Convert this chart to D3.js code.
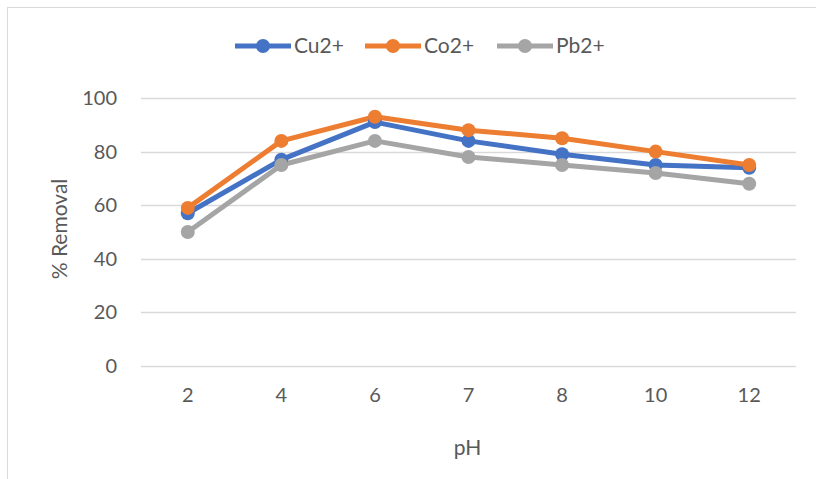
<!DOCTYPE html>
<html>
<head>
<meta charset="utf-8">
<script src="https://cdn.jsdelivr.net/npm/d3@7"></script>
<style>
  body { margin: 0; background: #fff; }
  text { font-family: Lato, "Open Sans", sans-serif; fill: #595959; }
</style>
</head>
<body>
<div id="chart-area"></div>
<script>
// data
const phLabels = ['2', '4', '6', '7', '8', '10', '12'];
const cuValues = [57, 77, 91, 84, 79, 75, 74];
const coValues = [59, 84, 93, 88, 85, 80, 75];
const pbValues = [50, 75, 84, 78, 75, 72, 68];
const seriesNames = ['Cu2+', 'Co2+', 'Pb2+'];
const yTicks = [0, 20, 40, 60, 80, 100];

const colors = ['#4472C4', '#ED7D31', '#A5A5A5'];
const series = [cuValues, coValues, pbValues].map((vals, i) => ({
  name: seriesNames[i],
  color: colors[i],
  values: vals.map((v, j) => ({ ph: phLabels[j], v: v }))
}));

const W = 816, H = 479;
const margins = { left: 141, right: 20, top: 98, bottom: 113 };

const root = d3.select('#chart-area')
  .append('svg')
  .attr('width', W)
  .attr('height', H);

// chart frame
root.append('rect')
  .attr('x', 7.5).attr('y', 7.5)
  .attr('width', W).attr('height', H)
  .attr('fill', 'none')
  .attr('stroke', '#d9d9d9');

const svg = root.append('g')
  .attr('transform', `translate(${margins.left}, ${margins.top})`);
const width = 796 - margins.left;
const height = 366 - margins.top;

// scales
let x = d3.scaleBand()
  .domain(phLabels)
  .range([0, width]);
let y = d3.scaleLinear()
  .domain([0, 100])
  .range([height, 0]);

// gridlines
svg.append('g')
  .selectAll('line')
  .data(yTicks)
  .enter().append('line')
  .attr('x1', 0).attr('x2', width)
  .attr('y1', d => Math.round(y(d)) + 0.5)
  .attr('y2', d => Math.round(y(d)) + 0.5)
  .attr('stroke', '#d9d9d9')
  .attr('stroke-width', 1.3);

// y axis labels
let yAxis = svg.append('g')
  .call(d3.axisLeft(y).tickValues(yTicks).tickSize(0).tickPadding(24));
yAxis.select('.domain').remove();
yAxis.selectAll('text')
  .attr('font-size', '20px')
  .attr('fill', '#595959')
  .style('font-family', 'Lato, sans-serif');

// x axis labels
let xAxis = svg.append('g')
  .attr('transform', `translate(0, ${height})`)
  .call(d3.axisBottom(x).tickSize(0).tickPadding(22));
xAxis.select('.domain').remove();
xAxis.selectAll('text')
  .attr('font-size', '20px')
  .attr('fill', '#595959')
  .style('font-family', 'Lato, sans-serif');

// axis titles
svg.append('text')
  .attr('x', width / 2 - 1)
  .attr('y', height + 89)
  .attr('text-anchor', 'middle')
  .attr('font-size', '21px')
  .text('pH');

svg.append('text')
  .attr('transform', 'rotate(-90)')
  .attr('x', -height / 2 + 3)
  .attr('y', -margins.left + 67)
  .attr('text-anchor', 'middle')
  .attr('font-size', '21px')
  .text('% Removal');

// lines and markers
const line = d3.line()
  .x(d => x(d.ph) + x.bandwidth() / 2)
  .y(d => y(d.v));

series.forEach(s => {
  svg.append('path')
    .datum(s.values)
    .attr('fill', 'none')
    .attr('stroke', s.color)
    .attr('stroke-width', 5)
    .attr('stroke-linejoin', 'round')
    .attr('d', line);
});
series.forEach(s => {
  svg.append('g')
    .selectAll('circle')
    .data(s.values)
    .enter().append('circle')
    .attr('cx', d => x(d.ph) + x.bandwidth() / 2)
    .attr('cy', d => y(d.v))
    .attr('r', 7)
    .attr('fill', s.color);
});

// legend
const legendX = [235, 365, 497];
const legend = root.append('g');
series.forEach((s, i) => {
  let g = legend.append('g').attr('transform', `translate(${legendX[i]}, 46)`);
  g.append('line')
    .attr('x1', 0).attr('x2', 56)
    .attr('stroke', s.color)
    .attr('stroke-width', 5);
  g.append('circle')
    .attr('cx', 28).attr('r', 7)
    .attr('fill', s.color);
  g.append('text')
    .attr('x', 59)
    .attr('y', 7)
    .attr('font-size', '21px')
    .text(s.name);
});
</script>
</body>
</html>
